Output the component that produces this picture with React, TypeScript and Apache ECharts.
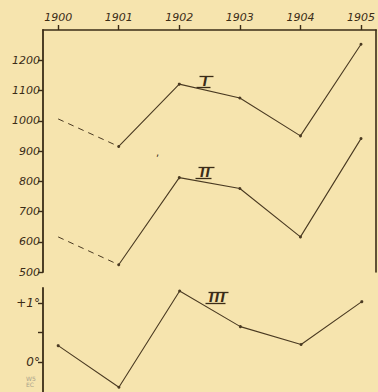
import React, { useEffect, useRef } from "react";
import * as echarts from "echarts";

const years = [1900, 1901, 1902, 1903, 1904, 1905];
const curveI = [1006, 915, 1121, 1075, 950, 1253];
const curveII = [616, 524, 812, 776, 616, 941];
const curveIII = [0.28, -0.42, 1.2, 0.6, 0.3, 1.02];
const upperTicks = [500, 600, 700, 800, 900, 1000, 1100, 1200];
const lowerTicks = [0, 0.5, 1];
const lowerLabels = [0, 1];
const curveNames = ["I", "II", "III"];

const INK = "#3b2c17";
const LINE = "#4a3a22";
const BG = "#f6e4ae";

function numeral(text: string, cx: number, cy: number, w: number) {
  const h = 11;
  return {
    type: "group",
    children: [
      {
        type: "text",
        x: cx,
        y: cy,
        style: {
          text: text.split("").join("\u200a"),
          fill: INK,
          font: "italic bold 12px 'DejaVu Sans'",
          align: "center",
          verticalAlign: "middle",
        },
      },
      {
        type: "line",
        shape: { x1: cx - w / 2 + 1.5, y1: cy - h / 2, x2: cx + w / 2 + 1.5, y2: cy - h / 2 },
        style: { stroke: INK, lineWidth: 1.3 },
      },
      {
        type: "line",
        shape: { x1: cx - w / 2 - 1.5, y1: cy + h / 2, x2: cx + w / 2 - 1.5, y2: cy + h / 2 },
        style: { stroke: INK, lineWidth: 1.3 },
      },
    ],
  };
}

export default function App() {
  const ref = useRef<HTMLDivElement>(null);
  useEffect(() => {
    if (!ref.current) return;
    const chart = echarts.init(ref.current, null, { renderer: "svg" });
    const solid = (c: number[]) => ({
      type: "line",
      xAxisIndex: 0,
      yAxisIndex: 0,
      data: years.slice(1).map((y, i) => [y, c[i + 1]]),
      symbol: "circle",
      symbolSize: 3,
      showSymbol: true,
      itemStyle: { color: LINE },
      lineStyle: { color: LINE, width: 1.1 },
      silent: true,
    });
    const dashed = (c: number[]) => ({
      type: "line",
      xAxisIndex: 0,
      yAxisIndex: 0,
      data: [[years[0], c[0]], [years[1], c[1]]],
      symbol: "none",
      lineStyle: { color: LINE, width: 1, type: [6, 5] },
      silent: true,
    });
    const labelFont = {
      color: INK,
      fontFamily: "DejaVu Sans",
      fontStyle: "italic" as const,
      fontSize: 11,
    };
    chart.setOption({
      animation: false,
      backgroundColor: BG,
      grid: [
        { left: 43, top: 30, width: 334, height: 242 },
        { left: 43, top: 288, width: 334, height: 105 },
      ],
      xAxis: [
        {
          type: "value",
          gridIndex: 0,
          position: "top",
          min: 1899.75,
          max: 1905.25,
          axisLine: { show: true, lineStyle: { color: INK, width: 1.6 } },
          axisTick: { show: true, customValues: years, length: 5, lineStyle: { color: INK, width: 1.4 } },
          axisLabel: { customValues: years, margin: 7, ...labelFont, formatter: (v: number) => String(v) },
          splitLine: { show: false },
        },
        {
          type: "value",
          gridIndex: 1,
          min: 1899.75,
          max: 1905.25,
          show: false,
        },
      ],
      yAxis: [
        {
          type: "value",
          gridIndex: 0,
          min: 500,
          max: 1300,
          axisLine: { show: true, lineStyle: { color: INK, width: 1.8 } },
          axisTick: { show: true, customValues: upperTicks, length: 5, lineStyle: { color: INK, width: 1.4 } },
          axisLabel: { customValues: upperTicks, margin: 3, ...labelFont, formatter: (v: number) => String(v) },
          splitLine: { show: false },
        },
        {
          type: "value",
          gridIndex: 0,
          position: "right",
          min: 500,
          max: 1300,
          axisLine: { show: true, lineStyle: { color: INK, width: 1.6 } },
          axisTick: { show: false },
          axisLabel: { show: false },
          splitLine: { show: false },
        },
        {
          type: "value",
          gridIndex: 1,
          min: -0.5,
          max: 1.25,
          axisLine: { show: true, lineStyle: { color: INK, width: 1.8 } },
          axisTick: { show: true, customValues: lowerTicks, length: 5, lineStyle: { color: INK, width: 1.4 } },
          axisLabel: {
            customValues: lowerLabels,
            margin: 3,
            ...labelFont,
            fontSize: 12,
            formatter: (v: number) => (v > 0 ? "+" + v + "°" : v + "°"),
          },
          splitLine: { show: false },
        },
      ],
      graphic: [
        numeral(curveNames[0], 205, 82, 14),
        numeral(curveNames[1], 205, 173, 16),
        numeral(curveNames[2], 217, 298, 20),
        { type: "text", left: 156, top: 147, style: { text: ",", fill: INK, font: "10px 'DejaVu Sans'" } },
        { type: "text", left: 26, top: 375, style: { text: "W5\nEC", fill: "#a9a38c", font: "6px 'DejaVu Sans'", lineHeight: 6 } },
      ],
      series: [
        dashed(curveI),
        solid(curveI),
        dashed(curveII),
        solid(curveII),
        {
          type: "line",
          xAxisIndex: 1,
          yAxisIndex: 2,
          data: years.map((y, i) => [y, curveIII[i]]),
          symbol: "circle",
          symbolSize: 3,
          itemStyle: { color: LINE },
          lineStyle: { color: LINE, width: 1.1 },
          silent: true,
        },
      ],
    });
    return () => chart.dispose();
  }, []);
  return (
    <div
      ref={ref}
      style={{ position: "fixed", left: 0, top: 0, width: 378, height: 392, background: BG }}
    />
  );
}
